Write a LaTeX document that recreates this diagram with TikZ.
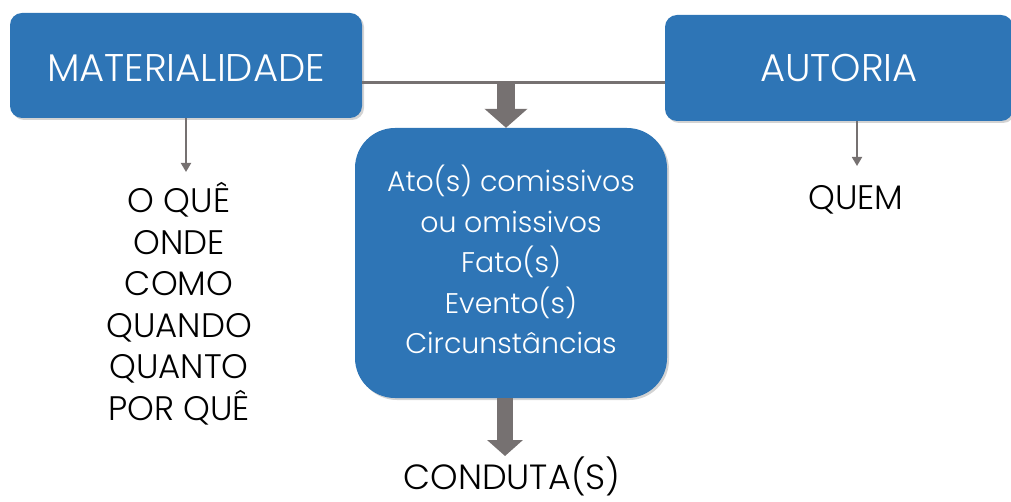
\documentclass[tikz,border=0pt]{standalone}
\usepackage{fontspec}
\setmainfont{Poppins Light}
\usetikzlibrary{arrows.meta,shadows,calc}
\definecolor{boxblue}{HTML}{2E75B6}
\definecolor{arrgray}{HTML}{767171}
\begin{document}
\begin{tikzpicture}[x=1pt,y=-1pt,
  bluebox/.style={fill=boxblue,draw=none,text=white,
    drop shadow={opacity=0.35,shadow xshift=2pt,shadow yshift=-2pt},
    inner sep=0pt},
  thinarrow/.style={draw=arrgray,line width=1.8pt,-{Triangle[width=10pt,length=9pt]}},
  listtext/.style={anchor=base,inner sep=0pt,font=\fontsize{34}{40}\selectfont,text=black}]
\useasboundingbox (0,0) rectangle (1011,502);
\node[bluebox,rounded corners=12pt,minimum width=352pt,minimum height=105pt,
  text height=33pt,text depth=0pt,font=\fontsize{38.6}{44}\selectfont] (m) at (186,65.5) {MATERIALIDADE};
\node[bluebox,rounded corners=12pt,minimum width=348pt,minimum height=106pt,
  text height=28pt,text depth=0pt,font=\fontsize{38.6}{44}\selectfont] (a) at (839,68) {AUTORIA};
\node[bluebox,rounded corners=40pt,minimum width=312pt,minimum height=270pt] (c) at (511,263) {};
\node[align=center,text=white,inner sep=0pt,font=\fontsize{28.4}{40.5}\selectfont] (ct) at (511,259.5)
  {Ato(s) comissivos\\ou omissivos\\Fato(s)\\Evento(s)\\Circunstâncias};
\coordinate (j) at (506,83);
\draw[draw=arrgray,line width=3pt] ([yshift=-17.5pt]m.east) -- ([yshift=-15pt]a.west);
\draw[draw=arrgray,line width=18pt,-{Triangle[width=42pt,length=19pt]}] (j) -- (j |- c.north);
\coordinate (cb) at (505,398);
\draw[draw=arrgray,line width=16pt,-{Triangle[width=35pt,length=16pt]}] (cb) -- (505,456) coordinate (ce);
\node[anchor=base,inner sep=0pt,font=\fontsize{35}{40}\selectfont] (cond) at (512,489) {CONDUTA(S)};
\draw[thinarrow] (m.south) -- (186,172) coordinate (me);
\node[listtext] (l1) at (179,213) {O QUÊ};
\node[listtext] (l2) at (179,254.4) {ONDE};
\node[listtext] (l3) at (179,295.8) {COMO};
\node[listtext] (l4) at (179,337.2) {QUANDO};
\node[listtext] (l5) at (179,378.6) {QUANTO};
\node[listtext] (l6) at (179,420) {POR QUÊ};
\coordinate (as) at (857,121);
\draw[thinarrow] (as) -- (857,166) coordinate (ae);
\node[listtext] (q) at (856,210) {QUEM};
\end{tikzpicture}
\end{document}
